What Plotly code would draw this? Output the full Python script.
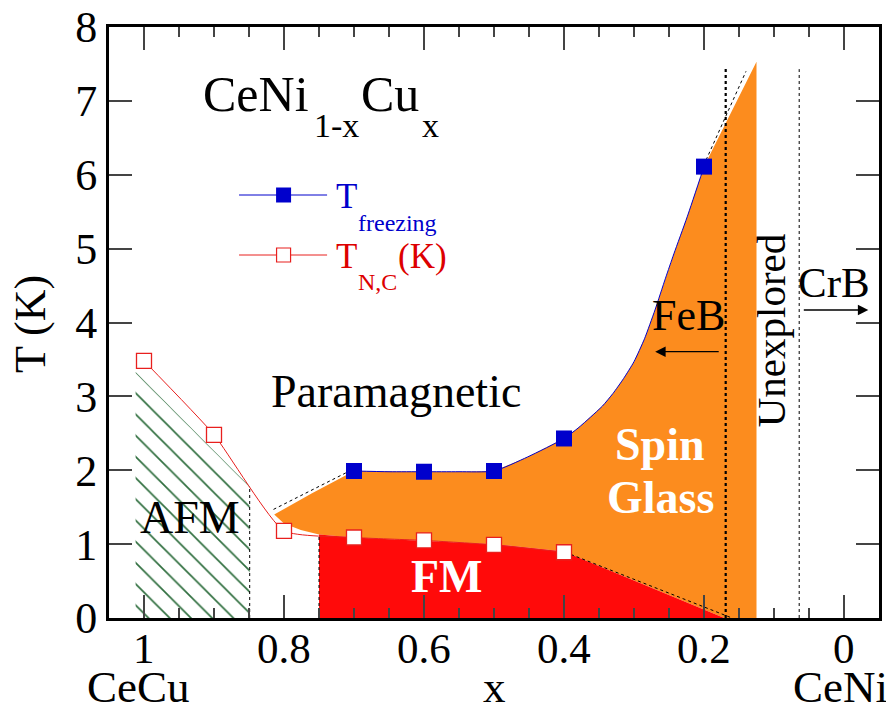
import plotly.graph_objects as go

# ---------------- data ----------------
x_freeze = [0.7, 0.6, 0.5, 0.4, 0.2]
T_freeze = [1.99, 1.98, 1.99, 2.43, 6.11]

x_nc = [1.0, 0.9, 0.8, 0.7, 0.6, 0.5, 0.4]
T_nc = [3.48, 2.48, 1.18, 1.09, 1.05, 0.99, 0.89]

# spin-glass upper boundary (blue curve)
sg_up_x = [0.814, 0.76, 0.70, 0.65, 0.60, 0.55, 0.50, 0.452, 0.40, 0.38, 0.362, 0.345,
           0.33, 0.315, 0.30, 0.285, 0.27, 0.255, 0.243, 0.224, 0.20, 0.125]
sg_up_T = [1.40, 1.69, 1.99, 1.98, 1.98, 1.98, 1.99, 2.18, 2.43, 2.57, 2.72, 2.87,
           3.04, 3.24, 3.47, 3.78, 4.17, 4.60, 4.93, 5.43, 6.11, 7.53]
# spin-glass lower boundary (right to left)
sg_lo_x = [0.125, 0.171, 0.40, 0.50, 0.60, 0.70, 0.75, 0.776, 0.80]
sg_lo_T = [0.0, 0.0, 0.90, 1.00, 1.05, 1.09, 1.13, 1.19, 1.28]

# FM region
fm_x = [0.75, 0.75, 0.70, 0.60, 0.50, 0.40, 0.171]
fm_T = [0.0, 1.13, 1.09, 1.05, 1.00, 0.90, 0.0]

# AFM hatched region
afm_x = [1.012, 1.012, 0.91, 0.849, 0.849]
afm_T = [0.0, 3.33, 2.36, 1.78, 0.0]

# dotted guide lines
dot1_x, dot1_T = [0.815, 0.70], [1.47, 2.02]
dot2_x, dot2_T = [0.197, 0.14], [6.20, 7.40]
dot3_x, dot3_T = [0.39, 0.16], [0.86, 0.0]

# vertical boundaries
feb_x = 0.169
crb_x = 0.064
vtop = 7.43
afm_edge_x, afm_edge_T = 0.849, 1.78
fm_edge_x, fm_edge_T = 0.75, 1.13

x_ticks = [1, 0.8, 0.6, 0.4, 0.2, 0]
x_ticklabels = ["1", "0.8", "0.6", "0.4", "0.2", "0"]
y_ticks = [0, 1, 2, 3, 4, 5, 6, 7, 8]

# ---------------- style ----------------
FONT = "Liberation Serif, Times New Roman, Times, serif"
ORANGE = "#FC8C1E"
RED = "#FF0A0A"
BLUE = "#0000CC"
RED_LINE = "#E8201E"
GREEN = "#2F6E3E"

fig = go.Figure()

fig.add_trace(go.Scatter(x=sg_up_x + sg_lo_x, y=sg_up_T + sg_lo_T, fill="toself",
                         fillcolor=ORANGE, mode="lines", line=dict(width=0),
                         hoverinfo="skip", showlegend=False))
fig.add_trace(go.Scatter(x=fm_x, y=fm_T, fill="toself", fillcolor=RED, mode="lines",
                         line=dict(width=0), hoverinfo="skip", showlegend=False))
fig.add_trace(go.Scatter(x=afm_x, y=afm_T, fill="toself", mode="lines",
                         line=dict(width=0, color="rgba(0,0,0,0)"),
                         fillcolor="rgba(0,0,0,0)",
                         fillpattern=dict(shape="\\", fgcolor=GREEN, bgcolor="white",
                                          size=15, solidity=0.11),
                         hoverinfo="skip", showlegend=False))

for dx, dy in [(dot1_x, dot1_T), (dot2_x, dot2_T), (dot3_x, dot3_T)]:
    fig.add_trace(go.Scatter(x=dx, y=dy, mode="lines",
                             line=dict(color="black", width=1, dash="dot"),
                             hoverinfo="skip", showlegend=False))

fig.add_trace(go.Scatter(x=[feb_x, feb_x], y=[0, vtop], mode="lines",
                         line=dict(color="black", width=2.2, dash="dot"),
                         hoverinfo="skip", showlegend=False))
fig.add_trace(go.Scatter(x=[crb_x, crb_x], y=[0, vtop], mode="lines",
                         line=dict(color="black", width=1, dash="3px,3px"),
                         hoverinfo="skip", showlegend=False))
fig.add_trace(go.Scatter(x=[afm_edge_x, afm_edge_x], y=[0, afm_edge_T], mode="lines",
                         line=dict(color="black", width=1, dash="3px,3px"),
                         hoverinfo="skip", showlegend=False))
fig.add_trace(go.Scatter(x=[fm_edge_x, fm_edge_x], y=[0, fm_edge_T], mode="lines",
                         line=dict(color="black", width=1, dash="3px,3px"),
                         hoverinfo="skip", showlegend=False))

# lines
fig.add_trace(go.Scatter(x=x_nc, y=T_nc, mode="lines",
                         line=dict(color=RED_LINE, width=1, shape="spline", smoothing=0.5),
                         hoverinfo="skip", showlegend=False))
fig.add_trace(go.Scatter(x=sg_up_x[2:-1], y=sg_up_T[2:-1], mode="lines",
                         line=dict(color=BLUE, width=1, shape="spline", smoothing=0.6),
                         hoverinfo="skip", showlegend=False))
# markers
fig.add_trace(go.Scatter(x=x_nc, y=T_nc, mode="markers",
                         marker=dict(symbol="square", size=15, color="white",
                                     line=dict(color=RED_LINE, width=1.3)),
                         showlegend=False))
fig.add_trace(go.Scatter(x=x_freeze, y=T_freeze, mode="markers",
                         marker=dict(symbol="square", size=16, color=BLUE,
                                     line=dict(width=0)),
                         showlegend=False))

# ---------------- layout helpers ----------------
W, H = 894, 710
OFF = 8  # page body margin in the browser
L, R, T_, B = 109 - OFF, 878.7 - OFF, 27 - OFF, 618 - OFF


def px(p):
    return (p - OFF - L) / (R - L)


def py(p):
    return (B - (p - OFF)) / (B - T_)


def txt(text, x, base, size, color="black", bold=False, anchor="left", angle=0):
    # base = baseline pixel y (page coords); convert to middle of text box
    yc = base - 0.34 * size
    if bold:
        text = "<b>" + text + "</b>"
    return dict(text=text, x=px(x), y=py(yc), xref="paper", yref="paper",
                xanchor=anchor, yanchor="middle", showarrow=False,
                textangle=angle,
                font=dict(family=FONT, size=size, color=color))


ann = []
# x tick labels placed on the data scale
for v, lab in zip(x_ticks, x_ticklabels):
    ann.append(dict(text=lab, x=v, xref="x", y=py(663 - 0.34 * 43), yref="paper",
                    xanchor="center", yanchor="middle", showarrow=False,
                    font=dict(family=FONT, size=43, color="black")))
# title formula
ann.append(txt("CeNi", 201, 111, 50))
ann.append(txt("1-x", 312, 137, 34))
ann.append(txt("Cu", 359, 111, 50))
ann.append(txt("x", 420, 137, 34))
# legend text
ann.append(txt("T", 334, 208, 35, BLUE))
ann.append(txt("freezing", 356, 231, 24, BLUE))
ann.append(txt("T", 334, 268, 35, "#DD0000"))
ann.append(txt("N,C", 356, 290, 24, "#DD0000"))
ann.append(txt("(K)", 396, 268, 35, "#DD0000"))
# region labels
ann.append(txt("Paramagnetic", 396, 407, 46, anchor="center"))
ann.append(txt("AFM", 190, 533, 46, anchor="center"))
ann.append(txt("FM", 447, 592, 46, "white", bold=True, anchor="center"))
ann.append(txt("Spin", 660, 460, 46, "white", bold=True, anchor="center"))
ann.append(txt("Glass", 660, 513, 46, "white", bold=True, anchor="center"))
ann.append(txt("FeB", 688, 330, 44, anchor="center"))
ann.append(txt("CrB", 834, 297, 43, anchor="center"))
# Unexplored rotated
ann.append(dict(text="Unexplored", x=px(771), y=py(330), xref="paper", yref="paper",
                xanchor="center", yanchor="middle", showarrow=False, textangle=-90,
                font=dict(family=FONT, size=41, color="black")))
# axis titles
ann.append(dict(text="T (K)", x=px(30), y=py(324), xref="paper", yref="paper",
                xanchor="center", yanchor="middle", showarrow=False, textangle=-90,
                font=dict(family=FONT, size=44, color="black")))
ann.append(txt("x", 494, 702, 45, anchor="center"))
ann.append(txt("CeCu", 138, 702, 45, anchor="center"))
ann.append(txt("CeNi", 840, 702, 45, anchor="center"))
# arrows
ann.append(dict(text="", x=px(655), y=py(351.7), xref="paper", yref="paper",
                ax=65, ay=0, showarrow=True, arrowhead=2, arrowsize=1.6,
                arrowwidth=1.3, arrowcolor="black"))
ann.append(dict(text="", x=px(868), y=py(310), xref="paper", yref="paper",
                ax=-66, ay=0, showarrow=True, arrowhead=2, arrowsize=1.6,
                arrowwidth=1.3, arrowcolor="black"))

shapes = []
# legend samples
shapes.append(dict(type="line", xref="paper", yref="paper", x0=px(239), x1=px(327),
                   y0=py(195), y1=py(195), line=dict(color=BLUE, width=1)))
shapes.append(dict(type="rect", xref="paper", yref="paper", x0=px(276), x1=px(291),
                   y0=py(187.5), y1=py(202.5), fillcolor=BLUE, line=dict(width=0)))
shapes.append(dict(type="line", xref="paper", yref="paper", x0=px(239), x1=px(327),
                   y0=py(255), y1=py(255), line=dict(color=RED_LINE, width=1)))
shapes.append(dict(type="rect", xref="paper", yref="paper", x0=px(276.5), x1=px(290.5),
                   y0=py(248), y1=py(262), fillcolor="white",
                   line=dict(color=RED_LINE, width=1.2)))

fig.update_layout(
    template="none",
    width=W, height=H,
    margin=dict(l=L, r=W - R, t=T_, b=H - B, autoexpand=False),
    paper_bgcolor="white", plot_bgcolor="white",
    showlegend=False,
    annotations=ann, shapes=shapes,
    font=dict(family=FONT, color="black"),
)
fig.update_xaxes(range=[1.05, -0.05], showgrid=False, zeroline=False, automargin=False,
                 showline=True, linewidth=3, linecolor="black", mirror="allticks",
                 ticks="inside", ticklen=23, tickwidth=1.5, tickcolor="#444",
                 tickvals=x_ticks, showticklabels=False,
                 minor=dict(ticks="inside", ticklen=10, tickwidth=1.5, tickcolor="#444",
                            dtick=0.05, tick0=0, showgrid=False))
fig.update_yaxes(range=[0, 8], showgrid=False, zeroline=False, automargin=False,
                 showline=True, linewidth=3, linecolor="black", mirror="allticks",
                 ticks="inside", ticklen=23, tickwidth=1.5, tickcolor="#444",
                 tickvals=y_ticks, ticklabeloverflow="allow",
                 tickfont=dict(family=FONT, size=44, color="black"))

fig.write_html("out.html")
